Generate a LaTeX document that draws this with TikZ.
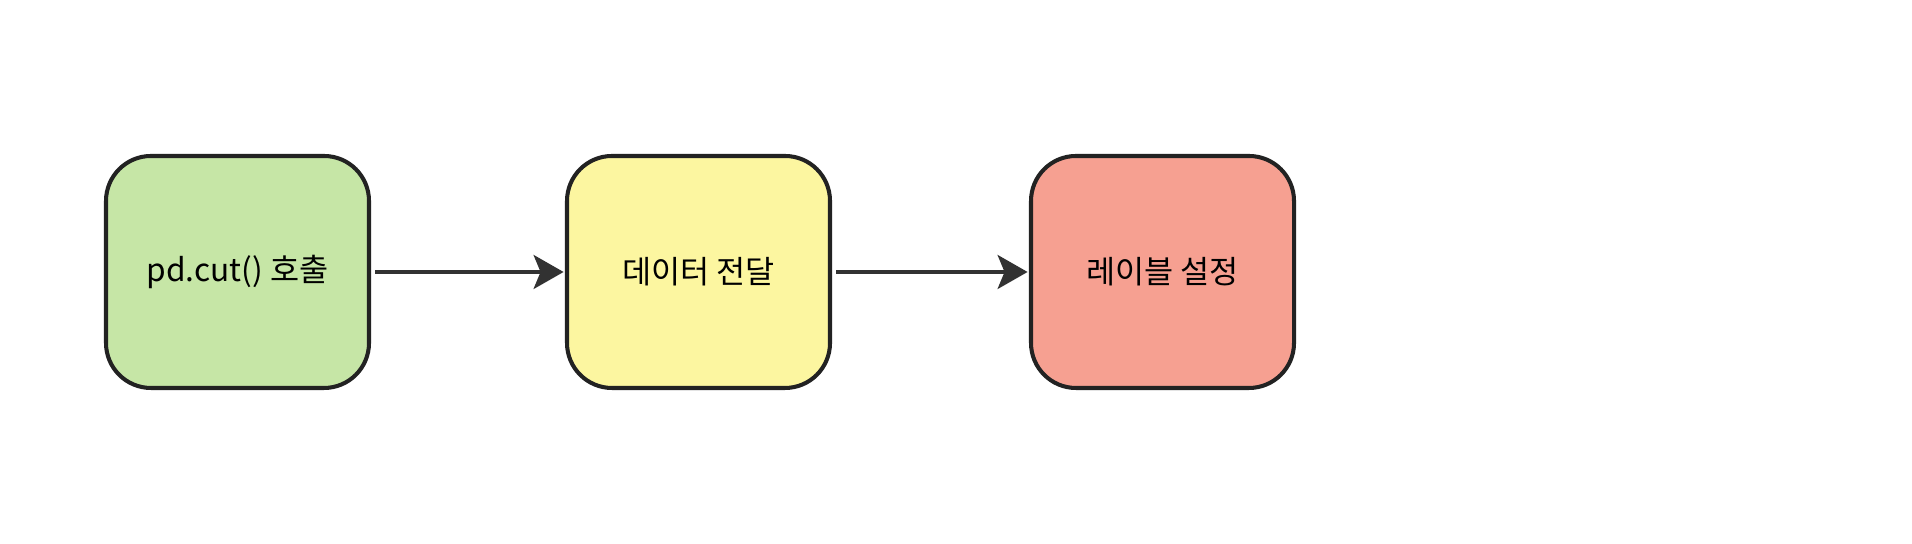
\documentclass[tikz,border=0pt]{standalone}
\usepackage{fontspec}
\newfontfamily\kr{Noto Sans CJK KR}
\usetikzlibrary{arrows.meta}
\definecolor{boxgreen}{RGB}{198,230,166}
\definecolor{boxyellow}{RGB}{252,246,160}
\definecolor{boxred}{RGB}{246,160,145}
\definecolor{edgegray}{RGB}{34,34,34}
\definecolor{arrgray}{RGB}{50,50,50}
\begin{document}
\begin{tikzpicture}[nodes={draw=edgegray,line width=1.15pt,rounded corners=0.45cm,minimum width=2.63cm,minimum height=2.32cm,font=\kr\fontsize{9}{11}\selectfont},arr/.style={line width=0.95pt,draw=arrgray,-{Stealth[length=0.3cm,width=0.34cm,inset=0.07cm,fill=arrgray]},shorten <=1.2pt,shorten >=0.4pt}]

      \useasboundingbox[fill=white] (0,0) rectangle (19.12,5.44);

      \node[fill=boxgreen] (1) at (2.375,2.72) {pd.cut() 호출};
      \node[fill=boxyellow] (2) at (6.985,2.72) {데이터 전달};
      \node[fill=boxred] (3) at (11.625,2.72) {레이블 설정};

      \draw[arr] (1) -- (2);
      \draw[arr] (2) -- (3);

    \end{tikzpicture}
\end{document}
